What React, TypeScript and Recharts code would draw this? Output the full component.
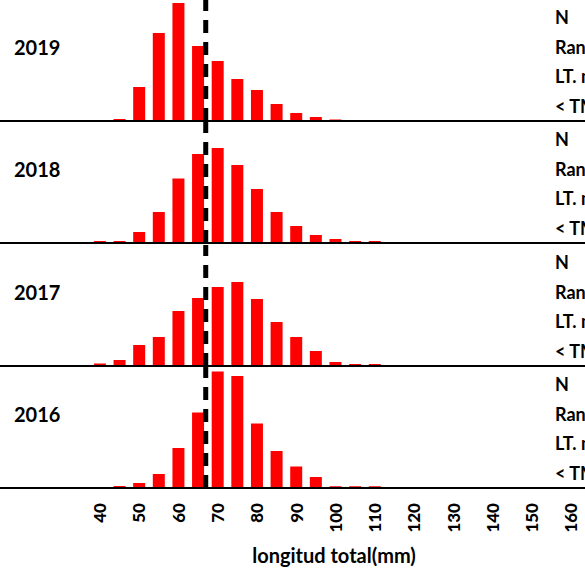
import { BarChart, Bar, XAxis, YAxis, ReferenceLine } from "recharts";

// size classes (mm), one bar per class
const bins = [40, 45, 50, 55, 60, 65, 70, 75, 80, 85, 90, 95, 100, 105, 110];

// relative frequency (%) per year
const freq2019 = [0, 0.4, 6.8, 17.6, 23.6, 15.0, 12.0, 8.4, 6.2, 3.4, 1.6, 0.8, 0.3, 0, 0];
const freq2018 = [0.4, 0.4, 2.2, 6.2, 12.9, 17.8, 19.0, 15.6, 10.8, 6.2, 3.4, 1.6, 0.8, 0.4, 0.4];
const freq2017 = [0.5, 1.2, 4.2, 5.8, 11.0, 13.6, 15.8, 16.8, 13.4, 8.8, 5.8, 3.0, 0.8, 0.4, 0.4];
const freq2016 = [0, 0.4, 1.0, 2.8, 8.0, 15.1, 23.3, 22.4, 12.9, 7.4, 4.3, 2.2, 0.35, 0.35, 0.35];

const years = ["2019", "2018", "2017", "2016"];
const series = [freq2019, freq2018, freq2017, freq2016];

const xTicks = [40, 50, 60, 70, 80, 90, 100, 110, 120, 130, 140, 150, 160];
const meanLength = 67;
const statLabels = ["N", "Rango", "LT. media", "< TMC"];
const xTitle = "longitud total(mm)";

const FONT = "Lato, 'Open Sans', sans-serif";
const W = 585;
const PLOT_H = 121;
const AXIS_H = 80;
const panelTops = [0, 122, 245, 367];

function RotatedTick(props: any) {
  const { x, y, payload } = props;
  const ty = y + 7;
  return (
    <text
      x={x}
      y={ty}
      transform={`rotate(-90 ${x} ${ty})`}
      textAnchor="end"
      dominantBaseline="central"
      fontFamily={FONT}
      fontWeight={900}
      fontSize={17}
      fill="#000"
    >
      {payload.value}
    </text>
  );
}

function Panel({ values, last }: { values: number[]; last: boolean }) {
  const data = bins.map((b, i) => ({ bin: b, pct: values[i] }));
  return (
    <BarChart
      width={W}
      height={PLOT_H + (last ? AXIS_H : 1)}
      data={data}
      margin={{ top: 0, right: 0, bottom: 0, left: 0 }}
    >
      <XAxis
        dataKey="bin"
        type="number"
        domain={[14.6, 163.6]}
        allowDataOverflow
        ticks={xTicks}
        interval={0}
        height={last ? AXIS_H : 1}
        axisLine={{ stroke: "#000", strokeWidth: 2 }}
        tickLine={false}
        tick={last ? <RotatedTick /> : false}
      />
      <YAxis hide domain={[0, 24.2]} allowDataOverflow />
      <Bar dataKey="pct" fill="#ff0000" barSize={12} isAnimationActive={false} />
      <ReferenceLine x={meanLength} stroke="#000" strokeWidth={5} strokeDasharray="13 9" />
    </BarChart>
  );
}

export default function App() {
  return (
    <div
      style={{
        position: "absolute",
        left: 0,
        top: 0,
        width: W,
        height: 570,
        overflow: "hidden",
        background: "#fff",
        fontFamily: FONT,
        fontWeight: 700,
      }}
    >
      {series.map((vals, i) => (
        <div key={years[i]} style={{ position: "absolute", left: 0, top: panelTops[i] }}>
          <Panel values={vals} last={i === series.length - 1} />
          <div
            style={{
              position: "absolute",
              left: 14,
              top: 47,
              transform: "translateY(-50%)",
              fontSize: 20,
              lineHeight: 1,
            }}
          >
            {years[i]}
          </div>
          {statLabels.map((s, j) => (
            <div
              key={s}
              style={{
                position: "absolute",
                left: 555,
                top: 17 + j * 29.5,
                transform: "translateY(-50%)",
                fontSize: 18,
                lineHeight: 1,
                whiteSpace: "nowrap",
              }}
            >
              {s}
            </div>
          ))}
        </div>
      ))}
      <div
        style={{
          position: "absolute",
          left: 334,
          top: 555,
          transform: "translate(-50%, -50%)",
          fontSize: 20,
          lineHeight: 1,
          whiteSpace: "nowrap",
        }}
      >
        {xTitle}
      </div>
    </div>
  );
}
